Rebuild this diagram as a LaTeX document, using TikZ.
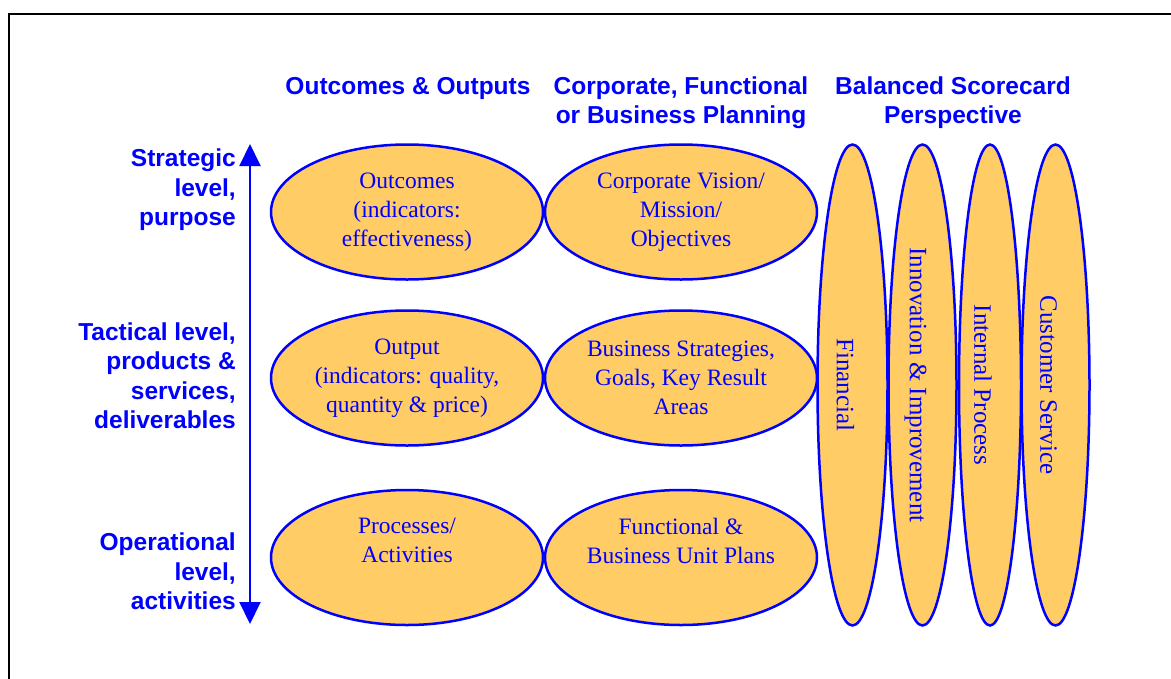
\documentclass[tikz,border=0pt]{standalone}
\usepackage{fontspec}
\setmainfont{Liberation Serif}
\newfontfamily\hdfont{Liberation Sans}
\usetikzlibrary{shapes.geometric,arrows.meta}
\definecolor{lblue}{RGB}{0,0,255}
\definecolor{ofill}{RGB}{255,204,102}
\begin{document}
\begin{tikzpicture}[x=1pt,y=-1pt,
  oval/.style={ellipse, draw=lblue, fill=ofill, line width=2.5pt, inner sep=0pt},
  hov/.style={oval, minimum width=272pt, minimum height=135pt},
  vov/.style={oval, minimum height=481pt},
  otext/.style={text=lblue, align=center, inner sep=0pt, font=\fontsize{23.5}{29}\selectfont},
  vtext/.style={text=lblue, rotate=-90, inner sep=0pt, font=\fontsize{25}{30}\selectfont},
  hd/.style={text=lblue, align=center, inner sep=0pt, anchor=base, font=\hdfont\bfseries\fontsize{24.5}{29.5}\selectfont},
  lvl/.style={text=lblue, align=right, inner sep=0pt, anchor=base east, font=\hdfont\bfseries\fontsize{24.5}{29.5}\selectfont},
  axis/.style={draw=lblue, line width=2pt, {Triangle[width=21pt,length=22pt]}-{Triangle[width=21pt,length=22pt]}}]
\useasboundingbox (0,0) rectangle (1171,678);
\fill[white] (0,0) rectangle (1171,678);
% frame
\draw[line width=2pt] (9,679) -- (9,14) -- (1172,14);
% headers (base = baseline of last line)
\node[hd] (h1) at (408,94) {Outcomes \& Outputs};
\node[hd] (h2) at (681,123.5) {Corporate, Functional\\or Business Planning};
\node[hd] (h3) at (953,123.5) {Balanced Scorecard\\Perspective};
% level labels
\node[lvl] (lstr) at (236,225.5) {Strategic\\level,\\purpose};
\node[lvl] (ltac) at (236,428.5) {Tactical level,\\products \&\\services,\\deliverables};
\node[lvl] (lop) at (236,609.5) {Operational\\level,\\activities};
% axis arrow
\coordinate (atop) at (250,144);
\coordinate (abot) at (250,624);
\draw[axis] (abot) -- (atop);
% horizontal ellipses
\node[hov] (e11) at (407,212) {};
\node[hov] (e12) at (681,212) {};
\node[hov] (e21) at (407,378) {};
\node[hov] (e22) at (681,378) {};
\node[hov] (e31) at (407,557.5) {};
\node[hov] (e32) at (681,557.5) {};
\node[otext] (t11) at (e11) {Outcomes\\(indicators:\\effectiveness)};
\node[otext] (t12) at (e12) {Corporate Vision/\\Mission/\\Objectives};
\node[otext] (t21) at (e21) {Output\\(indicators: quality,\\quantity \& price)};
\node[otext] (t22) at (e22) {Business Strategies,\\Goals, Key Result\\Areas};
\node[otext] (t31) at ([yshift=17pt]e31.center) {Processes/\\Activities};
\node[otext] (t32) at ([yshift=17pt]e32.center) {Functional \&\\Business Unit Plans};
% vertical ellipses
\node[vov, minimum width=70pt] (v1) at (852.5,385) {};
\node[vov, minimum width=68pt] (v2) at (922.5,385) {};
\node[vov, minimum width=62pt] (v3) at (990,385) {};
\node[vov, minimum width=68pt] (v4) at (1055.5,385) {};
\node[vtext] (vt1) at ([xshift=-7pt]v1.center) {Financial};
\node[vtext] (vt2) at ([xshift=-7pt]v2.center) {Innovation \& Improvement};
\node[vtext] (vt3) at ([xshift=-7pt]v3.center) {Internal Process};
\node[vtext] (vt4) at ([xshift=-7pt]v4.center) {Customer Service};
\end{tikzpicture}
\end{document}
